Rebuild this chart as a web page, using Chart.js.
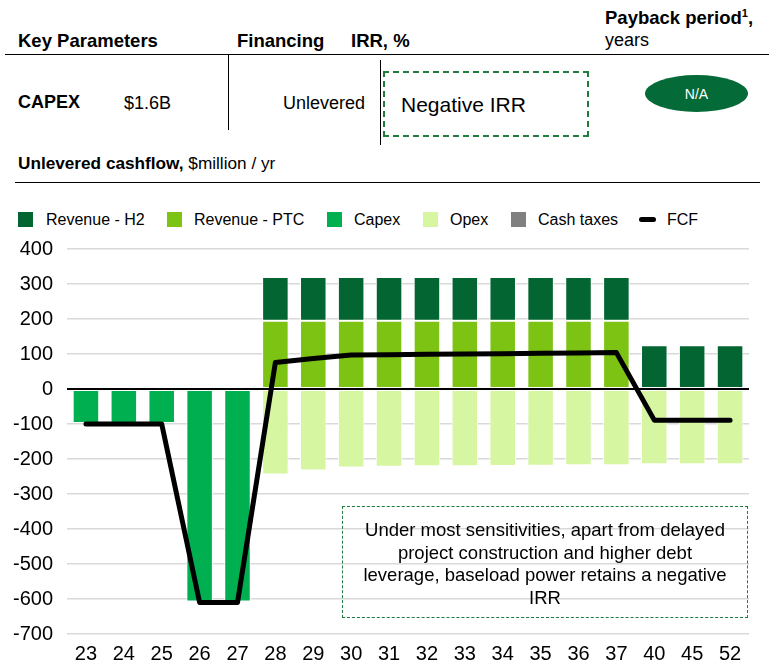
<!DOCTYPE html>
<html>
<head>
<meta charset="utf-8">
<script src="https://cdn.jsdelivr.net/npm/chart.js@4/dist/chart.umd.min.js"></script>
<style>
  body { margin: 0; background: #fff; width: 771px; height: 664px; position: relative; overflow: hidden;
         font-family: "Liberation Sans", Arial, sans-serif; color: #000; }
  .t { position: absolute; white-space: nowrap; font-size: 18px; line-height: 20px; }
  .b { font-weight: bold; }
  .hl { position: absolute; height: 0; border-top: 1.5px solid #000; }
  .vl { position: absolute; width: 0; border-left: 1.5px solid #000; }
  #irrbox { position: absolute; left: 383px; top: 71px; width: 202px; height: 62px; border: 2px dashed #1f7a3c; }
  #na { position: absolute; left: 645px; top: 75px; width: 103px; height: 37px; border-radius: 50%;
        background: #046a38; color: #fff; font-size: 14px; line-height: 39px; text-align: center; }
  .lg { position: absolute; top: 210px; font-size: 16px; line-height: 20px; white-space: nowrap; }
  .sw { position: absolute; top: 212px; width: 15px; height: 15px; }
  .fcfsw { position: absolute; left: 639px; top: 217px; width: 17px; height: 5px; border-radius: 3px; background: #000; }
  #note { position: absolute; left: 342px; top: 506px; width: 406px; height: 112px; border: 1.5px dashed #1f7a3c;
          font-size: 18.5px; line-height: 22.5px; text-align: center; box-sizing: border-box; padding-top: 12px; }
  #wrap { position: absolute; left: 0; top: 223px; width: 771px; height: 441px; }
</style>
</head>
<body>
<div class="t b" style="left:605px;top:8px;font-size:18.5px;">Payback period<sup style="font-size:11px;line-height:0;">1</sup>,</div>
<div class="t" style="left:605px;top:30px;">years</div>
<div class="t b" style="left:18px;top:31px;font-size:18.5px;">Key Parameters</div>
<div class="t b" style="left:237px;top:31px;font-size:18.5px;">Financing</div>
<div class="t b" style="left:351px;top:31px;font-size:18.5px;">IRR, %</div>
<div class="hl" style="left:5px;top:54px;width:764px;"></div>
<div class="vl" style="left:228px;top:54px;height:76px;"></div>
<div class="vl" style="left:380px;top:60px;height:85px;"></div>
<div class="t b" style="left:18px;top:92px;">CAPEX</div>
<div class="t" style="left:124px;top:93px;">$1.6B</div>
<div class="t" style="left:283px;top:93px;">Unlevered</div>
<div id="irrbox"></div>
<div class="t" style="left:401px;top:93px;font-size:21px;line-height:24px;">Negative IRR</div>
<div id="na">N/A</div>
<div class="t" style="left:18px;top:153px;font-size:17.2px;"><b>Unlevered cashflow,</b> $million / yr</div>
<div class="hl" style="left:15px;top:182px;width:745px;"></div>

<!-- legend -->
<div class="sw" style="left:18px;background:#036531"></div><div class="lg" style="left:46px">Revenue - H2</div>
<div class="sw" style="left:167px;background:#7dc314"></div><div class="lg" style="left:194px">Revenue - PTC</div>
<div class="sw" style="left:327px;background:#00b050"></div><div class="lg" style="left:354px">Capex</div>
<div class="sw" style="left:423px;background:#d7f6a1"></div><div class="lg" style="left:450px">Opex</div>
<div class="sw" style="left:511px;background:#808080"></div><div class="lg" style="left:538px">Cash taxes</div>
<div class="fcfsw"></div><div class="lg" style="left:667px">FCF</div>

<div id="wrap"><canvas id="cashflow"></canvas></div>

<div id="note">Under most sensitivities, apart from delayed<br>project construction and higher debt<br>leverage, baseload power retains a negative<br>IRR</div>

<script>
var years = ["23", "24", "25", "26", "27", "28", "29", "30", "31", "32", "33", "34", "35", "36", "37", "40", "45", "52"];
var revenueH2 = [0, 0, 0, 0, 0, 125, 125, 125, 125, 125, 125, 125, 125, 125, 125, 125, 125, 125];
var revenuePTC = [0, 0, 0, 0, 0, 195, 195, 195, 195, 195, 195, 195, 195, 195, 195, 0, 0, 0];
var capex = [-97, -97, -97, -607, -607, 0, 0, 0, 0, 0, 0, 0, 0, 0, 0, 0, 0, 0];
var opex = [0, 0, 0, 0, 0, -244, -233, -224, -222, -221, -221, -220, -219, -218, -218, -215, -215, -215];
var cashTaxes = [0, 0, 0, 0, 0, 0, 0, 0, 0, 0, 0, 0, 0, 0, 0, 0, 0, 0];
var fcf = [-100, -100, -100, -610, -610, 76, 87, 97, 98, 99, 100, 101, 102, 103, 104, -89, -89, -89];

var yTicks = [400, 300, 200, 100, 0, -100, -200, -300, -400, -500, -600, -700];

function bar(label, data, color) {
  return {
    type: "bar",
    label: label,
    data: data,
    backgroundColor: color,
    borderColor: "#ffffff",
    borderWidth: 1,
    borderSkipped: false,
    stack: "cf",
    order: 2
  };
}

var ctx = document.getElementById("cashflow").getContext("2d");
var chart = new Chart(ctx, {
  data: {
    labels: years,
    datasets: [
      bar("Revenue - PTC", revenuePTC, "#7dc314"),
      bar("Revenue - H2", revenueH2, "#036531"),
      bar("Capex", capex, "#00b050"),
      bar("Opex", opex, "#d7f6a1"),
      bar("Cash taxes", cashTaxes, "#808080"),
      {
        type: "line",
        label: "FCF",
        data: fcf,
        borderColor: "#000000",
        borderWidth: 5,
        pointRadius: 0,
        borderCapStyle: "round",
        borderJoinStyle: "round",
        tension: 0,
        order: 1
      }
    ]
  },
  options: {
    responsive: true,
    maintainAspectRatio: false,
    animation: false,
    layout: { padding: { left: 0, right: 22, top: 19, bottom: 0 } },
    plugins: { legend: { display: false }, tooltip: { enabled: false } },
    datasets: { bar: { categoryPercentage: 1, barPercentage: 0.7 } },
    scales: {
      x: {
        stacked: true,
        afterFit: function (axis) { axis.height = 30; },
        grid: { display: false, drawTicks: false },
        border: { display: false },
        ticks: { color: "#000", padding: 8, font: { family: "Liberation Sans, Arial, sans-serif", size: 20 } }
      },
      y: {
        stacked: true,
        min: -700,
        max: 400,
        afterBuildTicks: function (axis) {
          axis.ticks = yTicks.map(function (v) { return { value: v }; });
        },
        afterFit: function (axis) { axis.width = 67; },
        grid: {
          drawTicks: false,
          lineWidth: function (c) { return c.tick && c.tick.value === 0 ? 2 : 1.5; },
          color: function (c) { return c.tick && c.tick.value === 0 ? "#000000" : "#d9d9d9"; }
        },
        border: { display: false },
        ticks: { color: "#000", padding: 14, font: { family: "Liberation Sans, Arial, sans-serif", size: 20 } }
      }
    }
  }
});
</script>
</body>
</html>
